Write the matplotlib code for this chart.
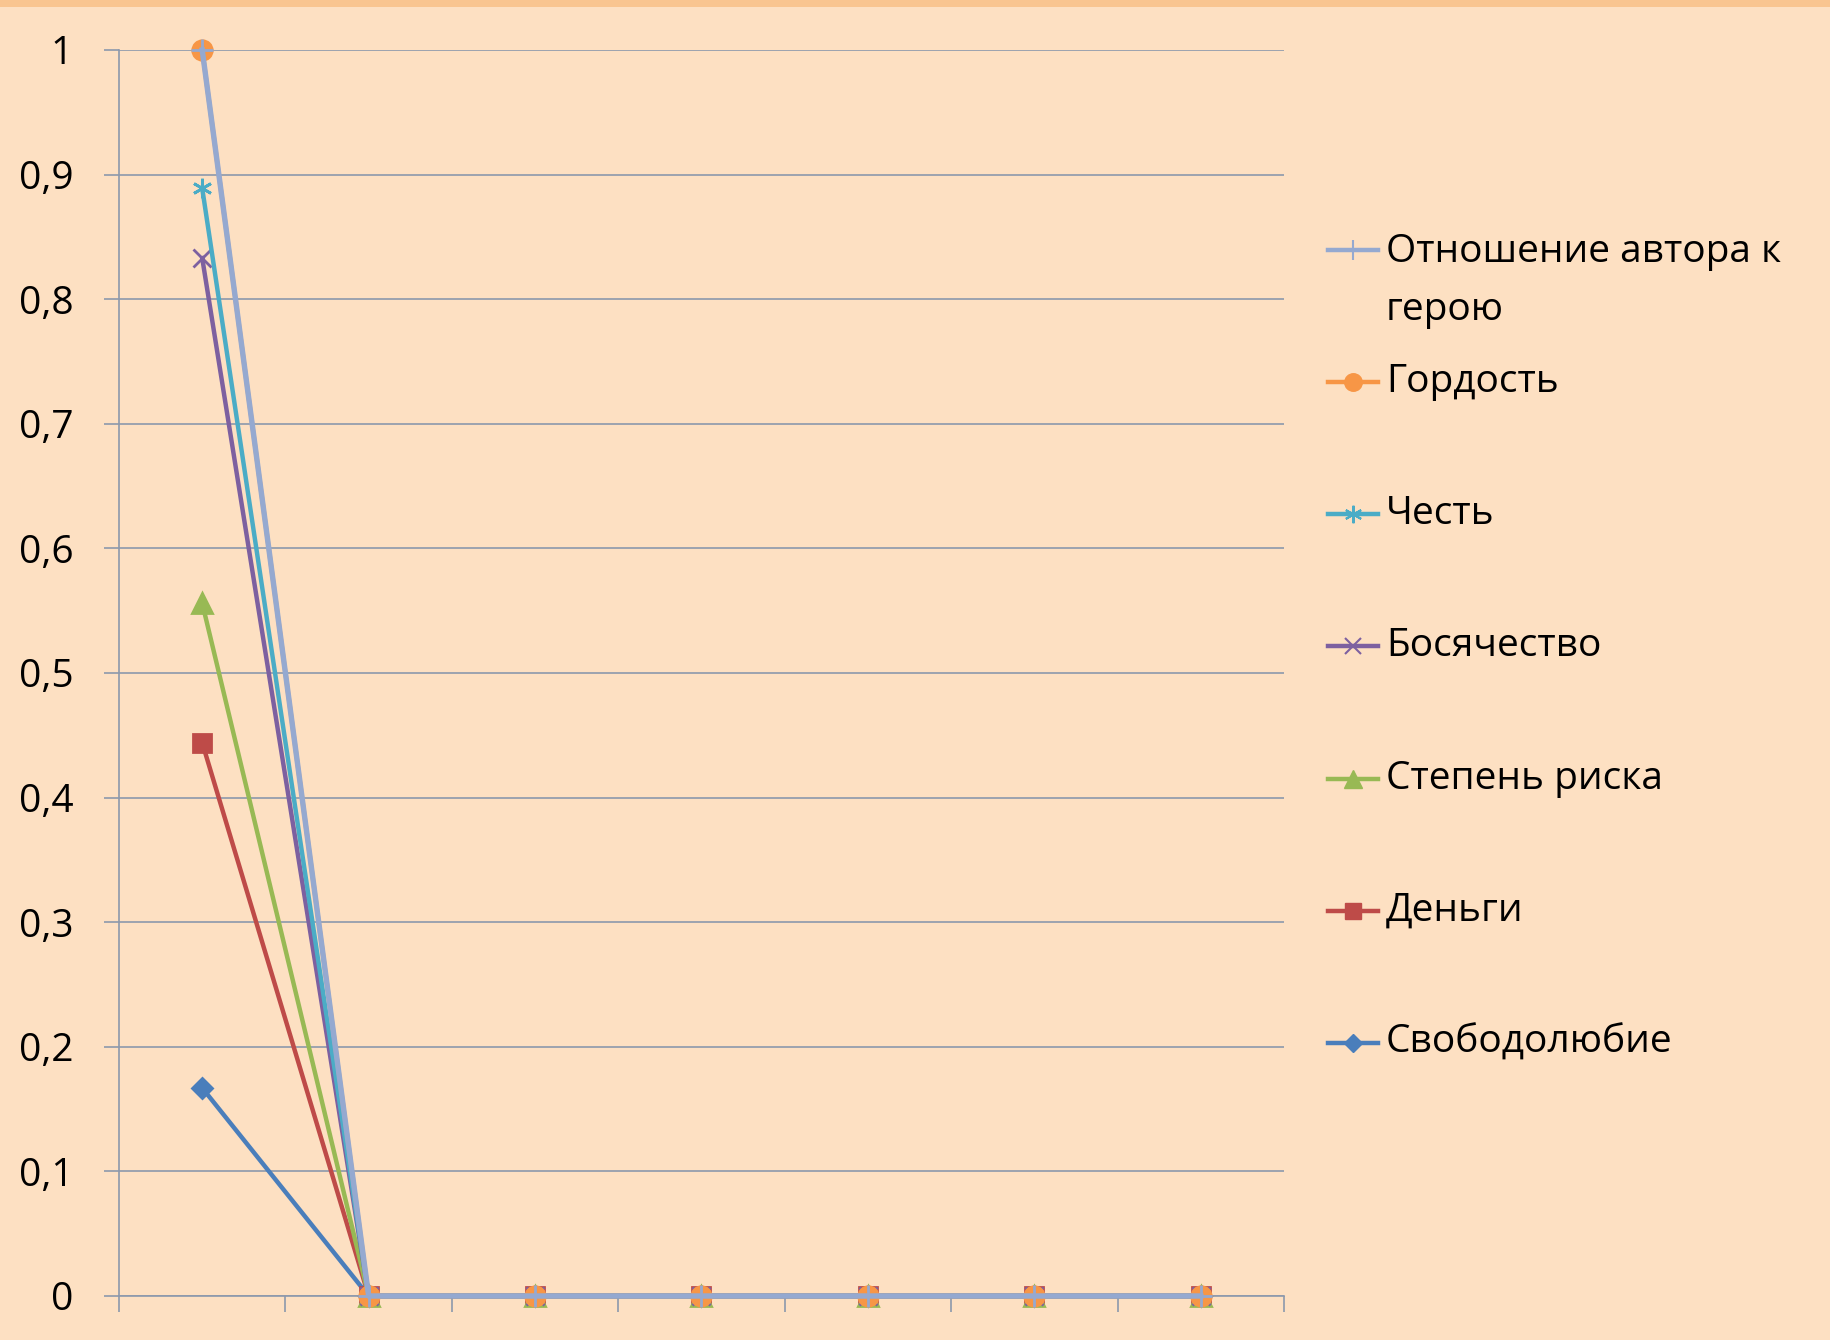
import numpy as np
import matplotlib.pyplot as plt
from matplotlib.lines import Line2D
from matplotlib.patches import Rectangle

plt.rcParams['font.family'] = ['Open Sans', 'DejaVu Sans']

# 7 unnamed categories along x
positions = [1, 2, 3, 4, 5, 6, 7]

svobodolyubie = [0.167, 0, 0, 0, 0, 0, 0]
dengi = [0.444, 0, 0, 0, 0, 0, 0]
stepen_riska = [0.556, 0, 0, 0, 0, 0, 0]
bosyachestvo = [0.833, 0, 0, 0, 0, 0, 0]
chest = [0.889, 0, 0, 0, 0, 0, 0]
gordost = [1.0, 0, 0, 0, 0, 0, 0]
otnoshenie = [1.0, 0, 0, 0, 0, 0, 0]

names = ['Свободолюбие', 'Деньги', 'Степень риска', 'Босячество',
         'Честь', 'Гордость', 'Отношение автора к\nгерою']
series = [svobodolyubie, dengi, stepen_riska, bosyachestvo,
          chest, gordost, otnoshenie]

y_ticks = [0, 0.1, 0.2, 0.3, 0.4, 0.5, 0.6, 0.7, 0.8, 0.9, 1]
y_labels = ['0', '0,1', '0,2', '0,3', '0,4', '0,5', '0,6', '0,7', '0,8', '0,9', '1']

# style per series: color, marker, markersize, linewidth
styles = [
    ('#4A7EBB', 'D', 10, 3.2),
    ('#BE4B48', 's', 13, 3.2),
    ('#98B954', '^', 14, 3.2),
    ('#7D60A0', 'x', 13, 3.2),
    ('#4BACC6', (6, 2, 0), 14, 3.2),
    ('#F79646', 'o', 14, 3.2),
    ('#95A9D0', '+', 16, 3.9),
]

bg = '#FDE0C2'
grid_col = '#8C98AC'

fig = plt.figure(figsize=(18.31, 13.40), dpi=100, facecolor=bg)
fig.patches.append(Rectangle((0, 1 - 7 / 1340), 1, 7 / 1340, transform=fig.transFigure,
                             facecolor='#F9C590', edgecolor='none'))
ax = fig.add_axes([119 / 1831, 44 / 1340, 1165 / 1831, 1246 / 1340])
ax.set_facecolor(bg)

for vals, (col, mk, ms, lw) in zip(series, styles):
    ax.plot(positions, vals, color=col, lw=lw, marker=mk, markersize=ms,
            markerfacecolor=col, markeredgecolor=col, markeredgewidth=2, zorder=3,
            clip_on=False)

ax.set_xlim(0.5, 7.5)
ax.set_ylim(0, 1)
ax.set_yticks(y_ticks)
ax.set_yticklabels(y_labels, fontsize=28)
ax.set_xticks(np.arange(0.5, 8, 1))
ax.set_xticklabels([])
ax.yaxis.grid(True, color=grid_col, lw=1.2)
ax.tick_params(axis='y', direction='out', length=11, width=1.2, color=grid_col, pad=22)
ax.tick_params(axis='x', direction='out', length=11.5, width=1.2, color=grid_col)
for s in ['top', 'right']:
    ax.spines[s].set_visible(False)
for s in ['left', 'bottom']:
    ax.spines[s].set_color(grid_col)
    ax.spines[s].set_linewidth(1.2)

# legend drawn by hand: Excel spaces the entries unevenly
legend_y = [1043, 911, 779, 646, 514, 382, 250]
for name, (col, mk, ms, lw), ly in zip(names, styles, legend_y):
    yf = 1 - ly / 1340
    fig.add_artist(Line2D([1328 / 1831, 1378 / 1831], [yf, yf], transform=fig.transFigure,
                          color=col, lw=3.2, zorder=3))
    thin = mk in ('+', 'x') or isinstance(mk, tuple)
    fig.add_artist(Line2D([1353 / 1831], [yf], transform=fig.transFigure, color=col,
                          marker=mk, markersize=ms * 0.9, markeredgewidth=1.5 if thin else 1,
                          markerfacecolor=col, markeredgecolor=col, linestyle='none'))
    if '\n' in name:
        fig.text(1386 / 1831, yf + 17 / 1340, name, fontsize=28, va='top', ha='left',
                 linespacing=1.7)
    else:
        fig.text(1386 / 1831, yf, name, fontsize=28, va='center', ha='left')

plt.savefig('out.png', dpi=100, facecolor=bg)
